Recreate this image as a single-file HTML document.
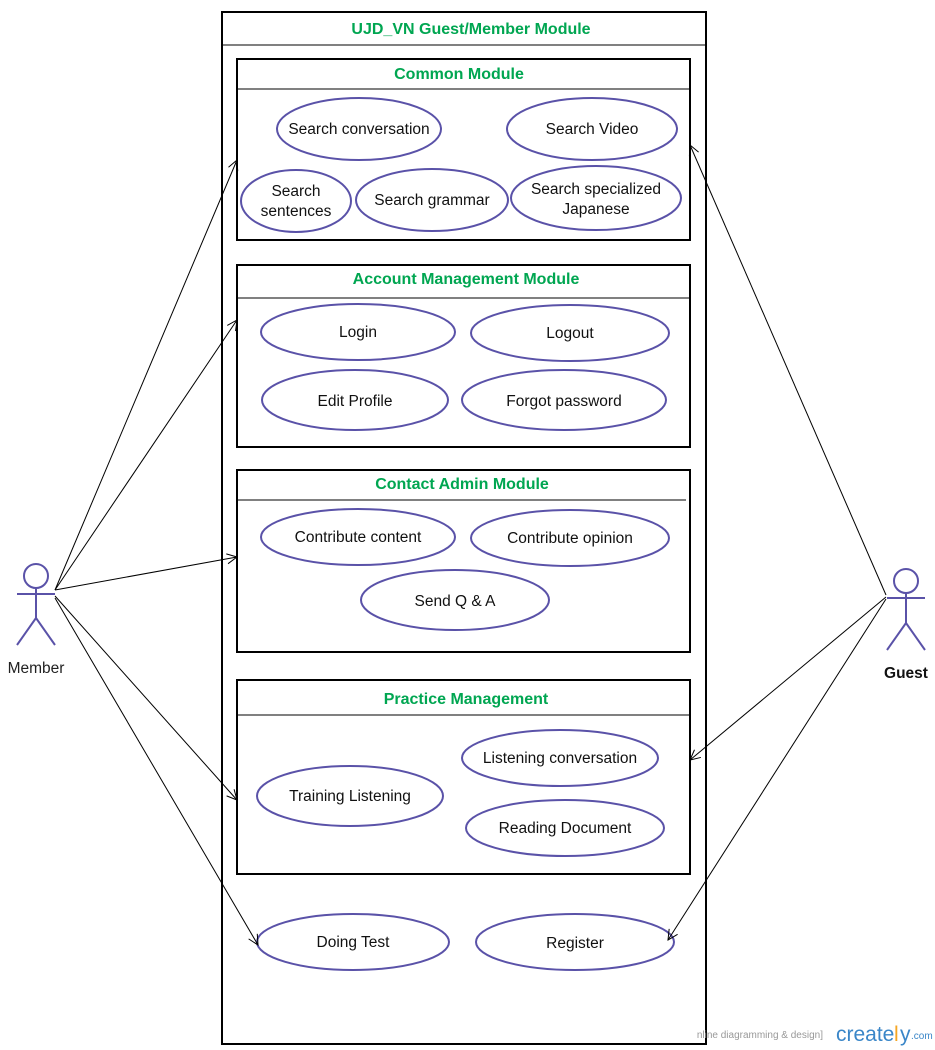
<!DOCTYPE html>
<html><head><meta charset="utf-8"><style>
html,body{margin:0;padding:0;background:#fff;}
svg{display:block;}
text{font-family:"Liberation Sans",Arial,sans-serif;}
.t{font-weight:bold;fill:#00a651;font-size:16px;text-anchor:middle;}
.e{fill:#fff;stroke:#5a52a8;stroke-width:2;}
.l{font-size:15.5px;fill:#111;text-anchor:middle;}
.b{fill:#fff;stroke:#000;stroke-width:2;}
.c{stroke:#000;stroke-width:1;fill:none;}
</style></head><body>
<svg width="935" height="1050" viewBox="0 0 935 1050" xmlns="http://www.w3.org/2000/svg">
<rect x="222" y="12" width="484" height="1032" class="b"/>
<line x1="222" y1="45" x2="706" y2="45" stroke="#000" stroke-width="1"/>
<text x="471" y="34" class="t">UJD_VN Guest/Member Module</text>

<rect x="237" y="59" width="453" height="181" class="b"/>
<line x1="237" y1="89" x2="690" y2="89" stroke="#000"/>
<text x="459" y="79" class="t">Common Module</text>
<ellipse cx="359" cy="129" rx="82" ry="31" class="e"/><text x="359" y="134" class="l">Search conversation</text>
<ellipse cx="592" cy="129" rx="85" ry="31" class="e"/><text x="592" y="134" class="l">Search Video</text>
<ellipse cx="296" cy="201" rx="55" ry="31" class="e"/><text x="296" y="196" class="l">Search</text><text x="296" y="216" class="l">sentences</text>
<ellipse cx="432" cy="200" rx="76" ry="31" class="e"/><text x="432" y="205" class="l">Search grammar</text>
<ellipse cx="596" cy="198" rx="85" ry="32" class="e"/><text x="596" y="194" class="l">Search specialized</text><text x="596" y="214" class="l">Japanese</text>

<rect x="237" y="265" width="453" height="182" class="b"/>
<line x1="237" y1="298" x2="690" y2="298" stroke="#000"/>
<text x="466" y="284" class="t">Account Management Module</text>
<ellipse cx="358" cy="332" rx="97" ry="28" class="e"/><text x="358" y="337" class="l">Login</text>
<ellipse cx="570" cy="333" rx="99" ry="28" class="e"/><text x="570" y="338" class="l">Logout</text>
<ellipse cx="355" cy="400" rx="93" ry="30" class="e"/><text x="355" y="406" class="l">Edit Profile</text>
<ellipse cx="564" cy="400" rx="102" ry="30" class="e"/><text x="564" y="406" class="l">Forgot password</text>

<rect x="237" y="470" width="453" height="182" class="b"/>
<line x1="237" y1="500" x2="686" y2="500" stroke="#000"/>
<text x="462" y="489" class="t">Contact Admin Module</text>
<ellipse cx="358" cy="537" rx="97" ry="28" class="e"/><text x="358" y="542" class="l">Contribute content</text>
<ellipse cx="570" cy="538" rx="99" ry="28" class="e"/><text x="570" y="543" class="l">Contribute opinion</text>
<ellipse cx="455" cy="600" rx="94" ry="30" class="e"/><text x="455" y="606" class="l">Send Q &amp; A</text>

<rect x="237" y="680" width="453" height="194" class="b"/>
<line x1="237" y1="715" x2="690" y2="715" stroke="#000"/>
<text x="466" y="704" class="t">Practice Management</text>
<ellipse cx="560" cy="758" rx="98" ry="28" class="e"/><text x="560" y="763" class="l">Listening conversation</text>
<ellipse cx="350" cy="796" rx="93" ry="30" class="e"/><text x="350" y="801" class="l">Training Listening</text>
<ellipse cx="565" cy="828" rx="99" ry="28" class="e"/><text x="565" y="833" class="l">Reading Document</text>

<ellipse cx="353" cy="942" rx="96" ry="28" class="e"/><text x="353" y="947" class="l">Doing Test</text>
<ellipse cx="575" cy="942" rx="99" ry="28" class="e"/><text x="575" y="948" class="l">Register</text>

<g stroke="#5a52a8" stroke-width="2" fill="none">
<circle cx="36" cy="576" r="12"/>
<line x1="36" y1="588" x2="36" y2="618"/>
<line x1="17" y1="594" x2="55" y2="594"/>
<line x1="36" y1="618" x2="17" y2="645"/>
<line x1="36" y1="618" x2="55" y2="645"/>
<circle cx="906" cy="581" r="12"/>
<line x1="906" y1="593" x2="906" y2="623"/>
<line x1="887" y1="598" x2="925" y2="598"/>
<line x1="906" y1="623" x2="887" y2="650"/>
<line x1="906" y1="623" x2="925" y2="650"/>
</g>
<text x="36" y="673" style="font-size:15.5px;fill:#222;text-anchor:middle">Member</text>
<text x="906" y="678" style="font-size:15.5px;font-weight:bold;fill:#111;text-anchor:middle">Guest</text>

<defs><marker id="a" markerWidth="12" markerHeight="12" refX="11" refY="6" orient="auto" markerUnits="userSpaceOnUse"><path d="M1,1 L11,6 L1,11" fill="none" stroke="#000" stroke-width="1"/></marker></defs>
<g class="c" marker-end="url(#a)">
<line x1="55" y1="590" x2="237" y2="160"/>
<line x1="55" y1="590" x2="237" y2="320"/>
<line x1="55" y1="590" x2="237" y2="557"/>
<line x1="55" y1="596" x2="237" y2="800"/>
<line x1="55" y1="598" x2="258" y2="945"/>
<line x1="886" y1="595" x2="690" y2="145"/>
<line x1="886" y1="597" x2="690" y2="760"/>
<line x1="886" y1="599" x2="668" y2="940"/>
</g>

<text x="823" y="1038" style="font-size:10px;fill:#999;text-anchor:end">nline diagramming &amp; design]</text>
<text x="836" y="1041" style="font-size:21px;fill:#3a86c8">create</text>
<text x="894" y="1041" style="font-size:21px;fill:#f5a623">l</text>
<text x="900" y="1041" style="font-size:21px;fill:#3a86c8">y</text>
<text x="911" y="1039" style="font-size:10px;fill:#3a86c8">.com</text>
</svg>
</body></html>
